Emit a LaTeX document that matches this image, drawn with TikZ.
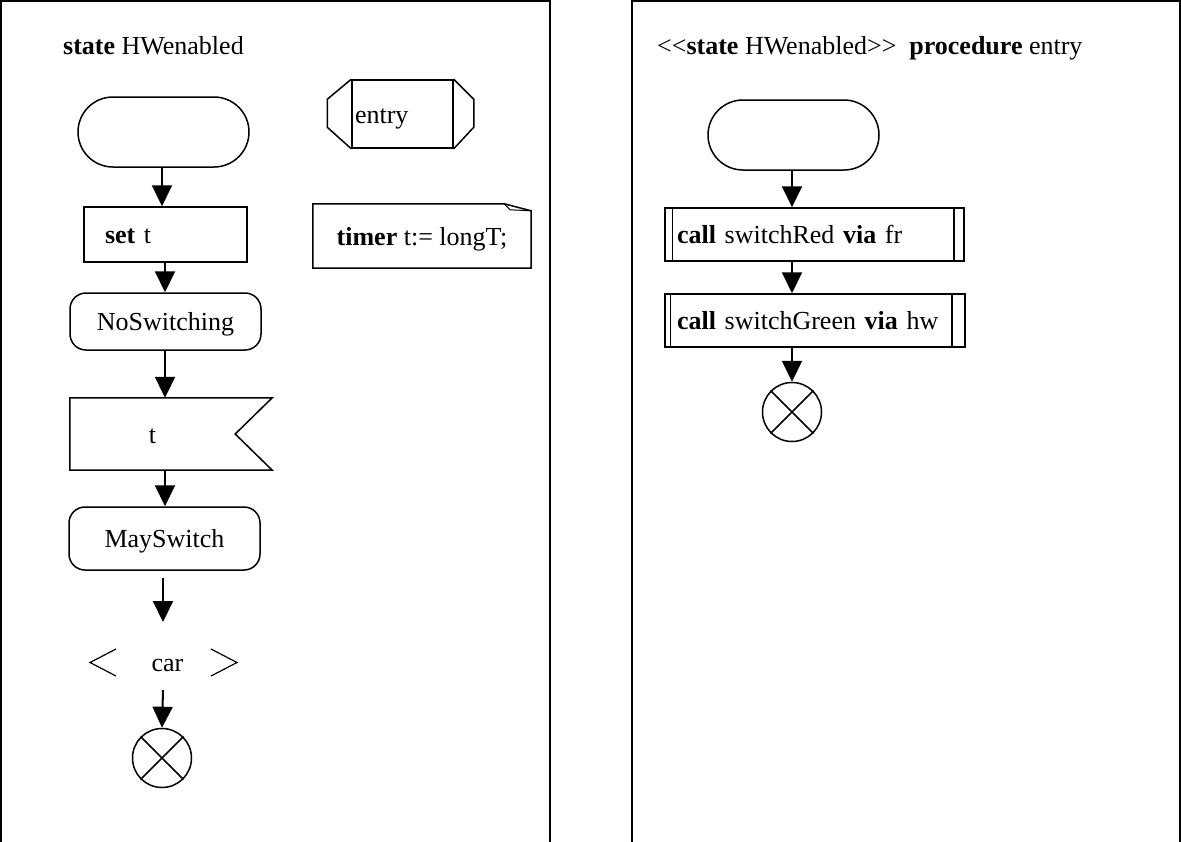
\documentclass[tikz,border=0pt]{standalone}
\usepackage{fontspec}
\setmainfont{Liberation Serif}
\usetikzlibrary{arrows.meta,shapes.misc,calc}
\begin{document}
\begin{tikzpicture}[x=1pt,y=-1pt,
  every node/.style={font=\fontsize{26}{30}\selectfont, inner sep=0pt,
    text height=18pt, text depth=0pt},
  frame/.style={line width=2pt},
  sym/.style={draw, line width=1.5pt},
  startsym/.style={sym, rounded rectangle, minimum width=171pt, minimum height=70pt},
  statesym/.style={sym, rectangle, rounded corners=16pt, minimum width=191pt},
  taskbox/.style={sym, rectangle},
  flow/.style={line width=2pt, -{Triangle[length=21pt,width=20pt]}},
  stopsym/.style={sym, circle, minimum size=59pt},
  bracket/.style={line width=1.2pt}
]
\useasboundingbox (0,0) rectangle (1181,841);

% frames, open at the bottom edge
\draw[frame] (1,842) -- (1,1) -- (550,1) -- (550,842);
\draw[frame] (632,842) -- (632,1) -- (1180,1) -- (1180,842);

% ---------- left frame: state HWenabled ----------
\node[anchor=west] (title1) at (63,45) {\textbf{state} HWenabled};

\node[startsym] (start1) at (163.5,132) {};
\node[taskbox, minimum width=163pt, minimum height=55pt, text width=121pt,
      inner xsep=21pt, align=left] (set) at (165.5,234.5) {\textbf{set} t};
\node[statesym, minimum height=57pt] (nosw) at (165.5,321.5) {NoSwitching};

% input signal t with the notch on its right side
\node[minimum width=165pt, minimum height=72pt] (sig) at (152.5,434) {t};
\draw[sym, line join=miter] (sig.south west) -- (sig.north west)
  -- ($(sig.north east)+(37,0)$) -- (sig.east)
  -- ($(sig.south east)+(37,0)$) -- cycle;

\node[statesym, minimum height=63pt] (may) at (164.5,538.5) {MaySwitch};

% save symbol: car
\node (car) at (167.5,662) {car};
\coordinate (carT) at (163,622);
\coordinate (carB) at (163,690);
\draw[bracket] (116,649) -- (90,662.5) -- (116,676);
\draw[bracket] (211,649) -- (237,662.5) -- (211,676);

\node[stopsym] (stop1) at (162,758) {};
\draw[sym] (stop1.north west) -- (stop1.south east);
\draw[sym] (stop1.north east) -- (stop1.south west);

\draw[flow] (start1.south -| 162,0) -- (set.north -| 162,0);
\draw[flow] (set.south -| 165,0) -- (nosw.north -| 165,0);
\draw[flow] (nosw.south -| 165,0) -- (sig.north -| 165,0);
\draw[flow] (sig.south -| 165,0) -- (may.north -| 165,0);
\draw[flow] ($(may.south -| carT)+(0,7)$) -- (carT);
\draw[flow] (carB) -- (stop1.north);

% procedure reference: entry
\node[taskbox, minimum width=101pt, minimum height=68pt, text width=95pt,
      inner xsep=3pt, align=left] (entry) at (402.5,114) {entry};
\draw[sym] (entry.north west) -- ++(-24,20) -- ++(0,28) -- (entry.south west);
\draw[sym] (entry.north east) -- ++(20,20) -- ++(0,28) -- (entry.south east);

% text symbol with folded corner
\node[minimum width=218pt, minimum height=64pt] (timer) at (422,236)
  {\textbf{timer} t:= longT;};
\draw[sym, line join=miter] ($(timer.north east)+(-27,0)$) -- (timer.north west)
  -- (timer.south west) -- (timer.south east) -- ($(timer.north east)+(0,7)$)
  -- cycle;
\draw[line width=1pt] ($(timer.north east)+(-27,0)$) -- ($(timer.north east)+(-21,6)$)
  -- ($(timer.north east)+(0,7)$);

% ---------- right frame: procedure entry ----------
\node[anchor=west] (title2) at (657,45)
  {<\kern0pt<\textbf{state} HWenabled>\kern0pt>\ \ \textbf{procedure} entry};

\node[startsym] (start2) at (793.5,135) {};
\node[taskbox, minimum width=299pt, minimum height=53pt, text width=275pt,
      inner xsep=12pt, align=left] (call1) at (814.5,234.5)
  {\textbf{call} switchRed \textbf{via} fr};
\draw[sym] ($(call1.north west)+(8,0)$) -- ($(call1.south west)+(8,0)$);
\draw[sym] ($(call1.north east)+(-11,0)$) -- ($(call1.south east)+(-11,0)$);

\node[taskbox, minimum width=300pt, minimum height=53pt, text width=276pt,
      inner xsep=12pt, align=left] (call2) at (815,320.5)
  {\textbf{call} switchGreen \textbf{via} hw};
\draw[sym] ($(call2.north west)+(6,0)$) -- ($(call2.south west)+(6,0)$);
\draw[sym] ($(call2.north east)+(-14,0)$) -- ($(call2.south east)+(-14,0)$);

\node[stopsym] (stop2) at (792,412) {};
\draw[sym] (stop2.north west) -- (stop2.south east);
\draw[sym] (stop2.north east) -- (stop2.south west);

\draw[flow] (start2.south -| 792,0) -- (call1.north -| 792,0);
\draw[flow] (call1.south -| 792,0) -- (call2.north -| 792,0);
\draw[flow] (call2.south -| 792,0) -- (stop2.north);
\end{tikzpicture}
\end{document}
